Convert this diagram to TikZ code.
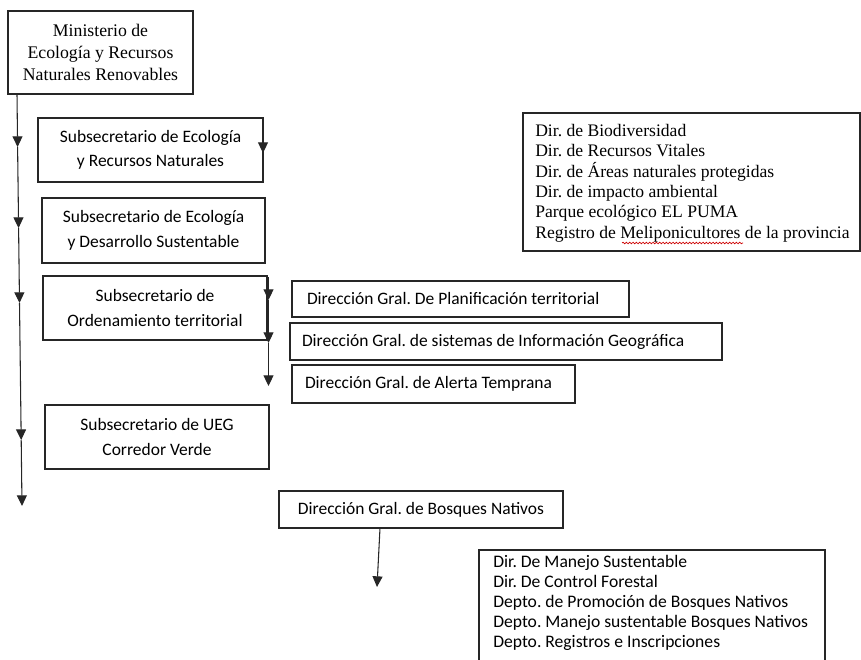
\documentclass[tikz,border=0pt]{standalone}
\usepackage{fontspec}
\setmainfont{Liberation Serif}
\newfontfamily\calibri{Carlito}
\usetikzlibrary{arrows.meta,decorations.pathmorphing}
\begin{document}
\frenchspacing
\begin{tikzpicture}[x=0.75pt,y=-0.75pt,
  box/.style={draw=black!85, line width=0.8pt, inner sep=0pt, align=center},
  serifA/.style={font=\frenchspacing\fontsize{13.3}{16.5}\selectfont},
  serifL/.style={font=\frenchspacing\fontsize{13.2}{15.3}\selectfont},
  sansA/.style={font=\frenchspacing\calibri\fontsize{13.1}{18.5}\selectfont},
  sansL/.style={font=\frenchspacing\calibri\fontsize{13.2}{15}\selectfont},
  arr/.style={draw=black!85, line width=0.8pt, -{Triangle[width=7.5pt,length=8pt]}},
]
\useasboundingbox (0,0) rectangle (861,660);

% boxes
\node[box, serifA, minimum width=138.75pt, minimum height=62.25pt] (min) at (100.5,52.5) {Ministerio de\\Ecología y Recursos\\Naturales Renovables};
\node[box, sansA, minimum width=168.75pt, minimum height=48pt] (subA) at (150.5,150) {Subsecretario de Ecología\\y Recursos Naturales};
\node[box, sansA, minimum width=167.25pt, minimum height=48.75pt] (subB) at (153.5,230.5) {Subsecretario de Ecología\\y Desarrollo Sustentable};
\node[box, sansA, minimum width=168pt, minimum height=48pt] (subC) at (155,308) {Subsecretario de\\Ordenamiento territorial};
\node[box, sansA, minimum width=168pt, minimum height=48pt] (subD) at (157,437) {Subsecretario de UEG\\Corredor Verde};

\node[box, sansA, align=flush left, text width=230.25pt, minimum width=252.75pt, minimum height=27pt] (p1) at (460.5,299) {Dirección Gral. De Planificación territorial};
\node[box, sansA, align=flush left, text width=306pt, minimum width=324pt, minimum height=27.75pt] (p2) at (506,341.5) {Dirección Gral. de sistemas de Información Geográfica};
\node[box, sansA, align=flush left, text width=192.75pt, minimum width=212.25pt, minimum height=28.5pt] (p3) at (433.5,384) {Dirección Gral. de Alerta Temprana};

\node[box, sansA, minimum width=213pt, minimum height=27.75pt] (bos) at (421,509.5) {Dirección Gral. de Bosques Nativos};

\node[box, minimum width=252.75pt, minimum height=103.5pt] (dirs) at (691.5,182) {};
\node[anchor=west, inner sep=0pt, serifL, align=flush left] (dirstext) at (535,183) {Dir. de Biodiversidad\\Dir. de Recursos Vitales\\Dir. de Áreas naturales protegidas\\Dir. de impacto ambiental\\Parque ecológico EL PUMA\\Registro de Meliponicultores de la provincia};
\draw[red!80!black, line width=0.5pt, decorate, decoration={snake, amplitude=0.6pt, segment length=2.5pt}] (622,243) -- (743,243);

\node[box, minimum width=259.5pt, minimum height=91.5pt] (bn) at (652,611) {};
\node[anchor=north west, inner sep=0pt, sansL, align=flush left] (bnl) at (493,555) {Dir. De Manejo Sustentable\\Dir. De Control Forestal\\Depto. de Promoción de Bosques Nativos\\Depto. Manejo sustentable Bosques Nativos\\Depto. Registros e Inscripciones};

% main vertical connector
\coordinate (m0) at (17,94);
\coordinate (t1) at (17.6,147);
\coordinate (t2) at (18.6,228);
\coordinate (t3) at (19.5,303);
\coordinate (t4) at (21.2,440);
\coordinate (t5) at (22,506);
\draw[arr] (m0) -- (t1);
\draw[arr] (t1) -- (t2);
\draw[arr] (t2) -- (t3);
\draw[arr] (t3) -- (t4);
\draw[arr] (t4) -- (t5);

% small arrow on subA
\coordinate (a0) at (263,140);
\coordinate (a1) at (263,153);
\draw[arr] (a0) -- (a1);

% Ordenamiento connector
\coordinate (c0) at (268.5,277);
\coordinate (c1) at (268.5,300);
\coordinate (c2) at (268.5,343);
\coordinate (c3) at (268.5,386);
\draw[arr] (c0) -- (c1);
\draw[arr] (c1) -- (c2);
\draw[arr] (c2) -- (c3);

% Bosques connector
\coordinate (b0) at (380,528);
\coordinate (b1) at (377,587);
\draw[arr] (b0) -- (b1);
\end{tikzpicture}
\end{document}
